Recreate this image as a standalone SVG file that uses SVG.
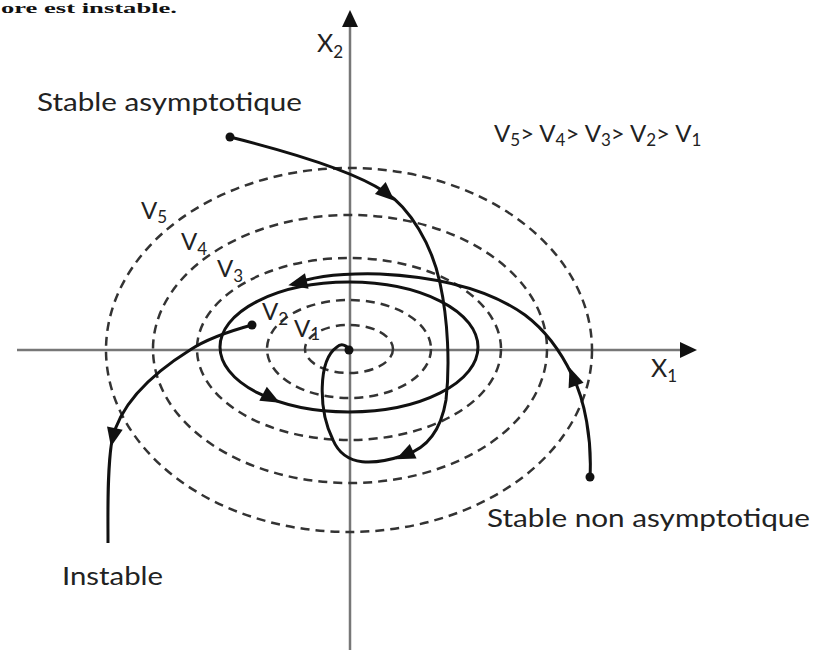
<svg xmlns="http://www.w3.org/2000/svg" width="813" height="650" viewBox="0 0 813 650">
<style>
.lbl{font-family:Lato,"Liberation Sans",sans-serif;font-size:25px;fill:#222}
.v{font-family:Lato,"Liberation Sans",sans-serif;font-size:24px;fill:#222}
.sub{font-size:17px}
.lev{fill:none;stroke:#333;stroke-width:2.5;stroke-dasharray:9 6}
.traj{fill:none;stroke:#111;stroke-width:3}
.axis{fill:none;stroke:#777;stroke-width:2.5}
</style>
<defs>
<path id="ah" d="M10,0 L-9,-8 L-9,8 Z" fill="#111"/>
</defs>
<rect width="813" height="650" fill="#fff"/>
<text x="1" y="13" font-family="'Liberation Serif',serif" font-weight="bold" font-size="15" fill="#111" textLength="176" lengthAdjust="spacingAndGlyphs">ore est instable.</text>

<g id="axes">
<line class="axis" x1="17" y1="350" x2="684" y2="350"/>
<path d="M697,350 L680,342 L680,358 Z" fill="#111"/>
<line class="axis" x1="350" y1="650" x2="350" y2="24"/>
<path d="M350,10 L342,27 L358,27 Z" fill="#111"/>
<text class="lbl" x="317" y="52" font-size="26">X<tspan class="sub" dy="6">2</tspan></text>
<text class="lbl" x="651" y="377" font-size="26">X<tspan class="sub" dy="5">1</tspan></text>
</g>

<g id="levels">
<ellipse class="lev" cx="349" cy="349" rx="44" ry="24"/>
<ellipse class="lev" cx="349" cy="349" rx="82" ry="49"/>
<ellipse class="lev" cx="349" cy="349" rx="152" ry="91"/>
<ellipse class="lev" cx="350" cy="349" rx="197" ry="134"/>
<ellipse class="lev" cx="349" cy="350" rx="243" ry="182"/>
<text class="v" x="141" y="219">V<tspan class="sub" dy="4">5</tspan></text>
<text class="v" x="181" y="250">V<tspan class="sub" dy="5">4</tspan></text>
<text class="v" x="217" y="277">V<tspan class="sub" dy="5">3</tspan></text>
<text class="v" x="262" y="320">V<tspan class="sub" dy="5">2</tspan></text>
<text class="v" x="294" y="337">V<tspan class="sub" dy="3">1</tspan></text>
<text class="v" x="494" y="142">V<tspan class="sub" dy="4">5</tspan><tspan dy="-4">&gt; V</tspan><tspan class="sub" dy="4">4</tspan><tspan dy="-4">&gt; V</tspan><tspan class="sub" dy="4">3</tspan><tspan dy="-4">&gt; V</tspan><tspan class="sub" dy="4">2</tspan><tspan dy="-4">&gt; V</tspan><tspan class="sub" dy="4">1</tspan></text>
</g>

<g id="connectors">
<g id="stable-asymptotique">
<path class="traj" d="M230,137 C290,152 355,172 385,192 C410,208 432,245 440,283 C448,320 450,365 446,400 C441,430 428,448 405,455 C375,465 345,468 333,440 C318,410 318,360 337,347 C341,343 347,345 349,350"/>
<circle cx="230" cy="137" r="4.5" fill="#111"/>
<circle cx="349" cy="350" r="4.5" fill="#111"/>
<use href="#ah" transform="translate(387,194) rotate(42)"/>
<use href="#ah" transform="translate(405,455) rotate(155)"/>
<text class="lbl" x="37" y="111" textLength="265" lengthAdjust="spacingAndGlyphs">Stable asymptotique</text>
</g>
<g id="instable">
<path class="traj" d="M252,325 C230,331 205,340 190,350 C150,375 120,405 112,440 C107,470 108,510 108,543"/>
<circle cx="252" cy="325" r="4.5" fill="#111"/>
<use href="#ah" transform="translate(113,437) rotate(102)"/>
<text class="lbl" x="62" y="585" textLength="101" lengthAdjust="spacingAndGlyphs">Instable</text>
</g>
<g id="stable-non-asymptotique">
<path class="traj" d="M590,477 C592,440 585,400 572,375 C560,350 545,330 525,315 C490,290 440,277 380,274 C340,273 310,277 292,285"/>
<ellipse class="traj" cx="349" cy="347" rx="129" ry="65"/>
<circle cx="590" cy="477" r="4.5" fill="#111"/>
<use href="#ah" transform="translate(573,377) rotate(-110)"/>
<use href="#ah" transform="translate(298,283) rotate(167)"/>
<use href="#ah" transform="translate(271,398) rotate(28)"/>
<text class="lbl" x="487" y="527" textLength="323" lengthAdjust="spacingAndGlyphs">Stable non asymptotique</text>
</g>
</g>
</svg>
